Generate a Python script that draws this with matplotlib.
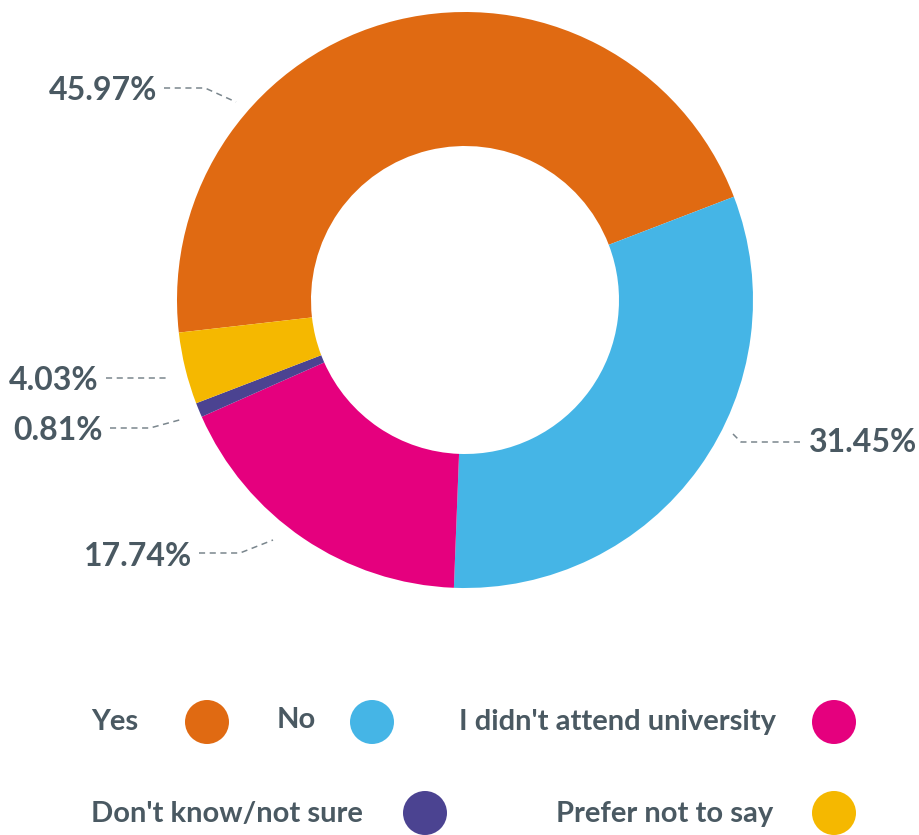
import matplotlib
matplotlib.use("Agg")
import matplotlib.pyplot as plt
from matplotlib.patches import Ellipse

categories = ["Yes", "No", "I didn't attend university", "Don't know/not sure", "Prefer not to say"]
values = [45.97, 31.45, 17.74, 0.81, 4.03]
labels = ["45.97%", "31.45%", "17.74%", "0.81%", "4.03%"]
colors = ["#E06A12", "#45B5E6", "#E5007E", "#4B4391", "#F5B800"]

TEXT = "#4A5962"
W, H = 919, 835
fig = plt.figure(figsize=(W / 100, H / 100), dpi=100)
ax = fig.add_axes([0, 0, 1, 1])

def Y(py):
    return H - py

cx, cy, R, Ri = 465, 300, 288, 154
ax.pie(values, colors=colors, startangle=186.5, counterclock=False,
       center=(cx, Y(cy)), radius=R,
       wedgeprops=dict(width=R - Ri, linewidth=0))
ax.set_xlim(0, W)
ax.set_ylim(0, H)
ax.set_aspect("auto")
ax.axis("off")

# label layout: (text x, text y, ha, leader polyline in pixel coords)
layout = {
    "45.97%": (157, 90, "right", [(164, 88), (205, 88), (236, 102)]),
    "31.45%": (809, 443, "left", [(733, 434), (741, 442), (802, 442)]),
    "17.74%": (192, 556, "right", [(199, 553), (240, 553), (273, 540)]),
    "0.81%": (103, 430, "right", [(110, 428), (150, 428), (183, 419)]),
    "4.03%": (99, 380, "right", [(106, 378), (167, 378)]),
}
for lab in labels:
    tx, ty, ha, pts = layout[lab]
    ax.text(tx, Y(ty), lab, ha=ha, va="center", fontsize=23,
            fontfamily=["Lato", "DejaVu Sans"], fontweight="bold", color=TEXT)
    xs = [p[0] for p in pts]
    ys = [Y(p[1]) for p in pts]
    ax.plot(xs, ys, color="#7A868D", lw=1.1, dashes=(4, 3))

# legend layout: (text x, text y, circle x, circle y)
leg_layout = [
    (91, 722, 207, 722),
    (277, 720, 372, 722),
    (459, 722, 834, 722),
    (91, 814, 425, 813),
    (556, 814, 834, 813),
]
for cat, col, (tx, ty, ccx, ccy) in zip(categories, colors, leg_layout):
    ax.text(tx, Y(ty), cat, ha="left", va="center", fontsize=21,
            fontfamily=["Lato", "DejaVu Sans"], fontweight="bold", color=TEXT)
    ax.add_patch(Ellipse((ccx, Y(ccy)), 44, 44, color=col, lw=0))

fig.savefig("out.png", dpi=100, facecolor="white")
